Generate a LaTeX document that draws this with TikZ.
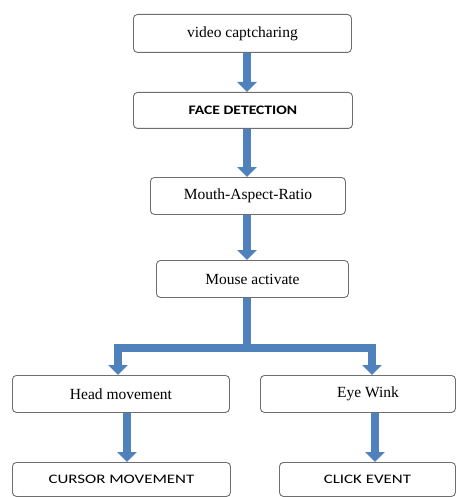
\documentclass[tikz,border=0pt]{standalone}
\usepackage{fontspec}
\setmainfont{Liberation Serif}
\newfontfamily\capsfont[FakeStretch=1.3]{Carlito}
\newfontfamily\capsboldfont[FakeStretch=1.2]{Carlito Bold}
\usetikzlibrary{arrows.meta}
\definecolor{flowblue}{HTML}{4F81BD}
\definecolor{boxgray}{HTML}{6E6E6E}
\tikzset{
  box/.style={draw=boxgray, line width=0.9pt, rounded corners=4pt, fill=white,
    inner sep=0pt, anchor=north west, font=\fontsize{15.5}{18}\selectfont},
  sansbox/.style={box, font=\fontsize{13}{16}\selectfont\capsfont},
  boldbox/.style={box, font=\fontsize{13}{16}\selectfont\capsboldfont},
  flow/.style={draw=flowblue, line width=8pt,
    -{Triangle[width=19pt,length=10pt]}},
  flowline/.style={draw=flowblue, line width=8pt}
}
\begin{document}
\begin{tikzpicture}[x=1pt,y=-1pt]
\useasboundingbox (0,0) rectangle (466,497);
% boxes
\node[box, minimum width=218pt, minimum height=38pt] (b1) at (133,14) {video captcharing};
\node[boldbox, minimum width=219pt, minimum height=36pt] (b2) at (133,92) {FACE DETECTION};
\node[box, minimum width=195pt, minimum height=37pt] (b3) at (150,177) {Mouth-Aspect-Ratio\hspace{20pt}};
\node[box, minimum width=192pt, minimum height=37pt] (b4) at (156,260) {Mouse activate};
\node[box, minimum width=217pt, minimum height=37pt] (b5) at (12,375) {Head movement\hspace{20pt}};
\node[box, minimum width=195pt, minimum height=37pt] (b6) at (260,375) {\hspace{20pt}Eye Wink};
\node[sansbox, minimum width=218pt, minimum height=34pt] (b7) at (12,462) {CURSOR MOVEMENT};
\node[sansbox, minimum width=176pt, minimum height=34pt] (b8) at (279,462) {CLICK EVENT};
% junction points
\coordinate (x1) at (247,0);
\coordinate (j) at (247,348);
\coordinate (jl) at (118,348);
\coordinate (jr) at (372,348);
\coordinate (x7) at (127,0);
\coordinate (x8) at (375,0);
% connectors
\draw[flow] (b1.south -| x1) -- (b2.north -| x1);
\draw[flow] (b2.south -| x1) -- (b3.north -| x1);
\draw[flow] (b3.south -| x1) -- (b4.north -| x1);
\draw[flowline] (b4.south -| x1) -- (j);
\draw[draw=flowblue, line width=8pt, {Triangle[width=19pt,length=10pt]}-{Triangle[width=19pt,length=10pt]}]
  (b5.north -| jl) -- (jl) -- (jr) -- (b6.north -| jr);
\draw[flow] (b5.south -| x7) -- (b7.north -| x7);
\draw[flow] (b6.south -| x8) -- (b8.north -| x8);
\end{tikzpicture}
\end{document}
